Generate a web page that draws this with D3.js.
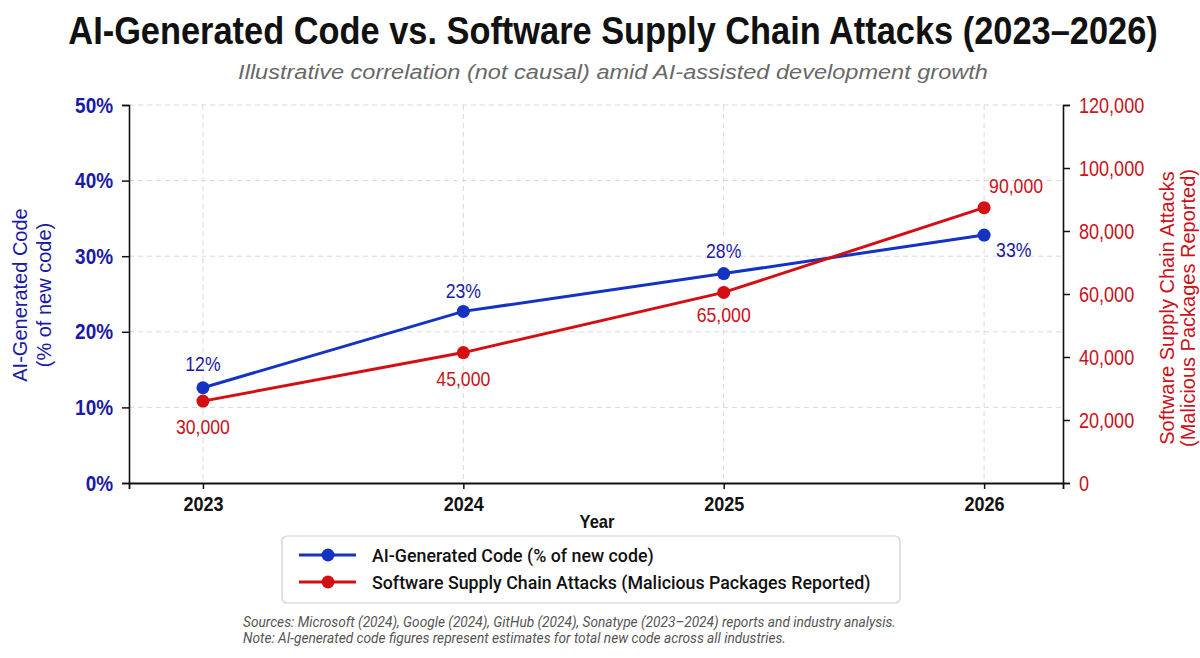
<!DOCTYPE html>
<html>
<head>
<meta charset="utf-8">
<script src="https://cdn.jsdelivr.net/npm/d3@7"></script>
<style>
  html, body { margin: 0; padding: 0; background: #ffffff; }
  svg { display: block; }
</style>
</head>
<body>
<svg id="chart" width="1200" height="658"></svg>
<script>
// ---------------- DATA ----------------
const years = [2023, 2024, 2025, 2026];
const aiCodeValues = [12.6, 22.7, 27.7, 32.8];          // % of new code (plotted)
const aiCodeLabels = ["12%", "23%", "28%", "33%"];
const attackValues = [26000, 41400, 60500, 87400];      // malicious packages (plotted)
const attackLabels = ["30,000", "45,000", "65,000", "90,000"];
const leftTicks = [0, 10, 20, 30, 40, 50];
const rightTicks = [0, 20000, 40000, 60000, 80000, 100000, 120000];
const seriesNames = ["AI-Generated Code (% of new code)", "Software Supply Chain Attacks (Malicious Packages Reported)"];
const titleText = "AI-Generated Code vs. Software Supply Chain Attacks (2023–2026)";
const subtitleText = "Illustrative correlation (not causal) amid AI-assisted development growth";
const notes = [
  "Sources: Microsoft (2024), Google (2024), GitHub (2024), Sonatype (2023–2024) reports and industry analysis.",
  "Note: AI-generated code figures represent estimates for total new code across all industries."
];

// ---------------- STYLE ----------------
const BLUE_TXT = "#1a1aa3", BLUE_LINE = "#1433c2";
const RED_TXT = "#c9121b", RED_LINE = "#d40f12";
const SANS = "'Liberation Sans',Arial,Helvetica,sans-serif";
const UI = "Roboto,'Noto Sans',sans-serif";

const svg = d3.select("#chart");
const W = 1200, H = 658;
const m = { left: 129, right: 1063, top: 105, bottom: 483 };

const x = d3.scaleLinear().domain([2022.716, 2026.303]).range([m.left, m.right]);
const yL = d3.scaleLinear().domain([0, 50]).range([m.bottom, m.top]);
const yR = d3.scaleLinear().domain([0, 120000]).range([m.bottom, m.top]);

svg.append("rect").attr("width", W).attr("height", H).attr("fill", "#ffffff");

// compress glyphs horizontally to imitate a condensed face
function narrow(sel, factor) {
  sel.each(function () {
    const len = this.getComputedTextLength();
    d3.select(this).attr("textLength", len * factor).attr("lengthAdjust", "spacingAndGlyphs");
  });
}
// horizontally scaled centred text of a given width
function scaledText(cx, cy, target, str, attrs) {
  const g = svg.append("g");
  const t = g.append("text").attr("x", 0).attr("y", 0).attr("text-anchor", "middle").text(str);
  Object.entries(attrs).forEach(([k, v]) => t.attr(k, v));
  const len = t.node().getComputedTextLength();
  g.attr("transform", `translate(${cx},${cy}) scale(${target / len},1)`);
  return t;
}

// Title & subtitle
scaledText(613, 44, 1090, titleText,
  { "font-family": SANS, "font-weight": 700, "font-size": 38, "fill": "#111" });
scaledText(613, 79, 750, subtitleText,
  { "font-family": SANS, "font-style": "italic", "font-size": 21, "fill": "#686868" });

// Grid
const grid = svg.append("g");
grid.selectAll("line.h").data(leftTicks.filter(d => d > 0)).join("line")
  .attr("x1", m.left).attr("x2", m.right)
  .attr("y1", d => yL(d)).attr("y2", d => yL(d))
  .attr("stroke", "#d9d9d9").attr("stroke-width", 1).attr("stroke-dasharray", "5,4");
grid.selectAll("line.v").data(years).join("line")
  .attr("x1", d => x(d)).attr("x2", d => x(d))
  .attr("y1", m.top).attr("y2", m.bottom)
  .attr("stroke", "#d9d9d9").attr("stroke-width", 1).attr("stroke-dasharray", "5,4");

// Axes
const axL = svg.append("g").attr("transform", `translate(${m.left},0)`)
  .call(d3.axisLeft(yL).tickValues(leftTicks).tickFormat(d => d + "%").tickSize(7).tickPadding(9));
axL.select(".domain").attr("stroke", "#111").attr("stroke-width", 1.6);
axL.selectAll(".tick line").attr("stroke", "#111").attr("stroke-width", 1.5);
axL.selectAll(".tick text").attr("font-family", SANS).attr("font-weight", 700)
  .attr("font-size", 22).attr("fill", BLUE_TXT).call(narrow, 0.86);

const axR = svg.append("g").attr("transform", `translate(${m.right},0)`)
  .call(d3.axisRight(yR).tickValues(rightTicks).tickFormat(d3.format(",")).tickSize(7).tickPadding(9));
axR.select(".domain").attr("stroke", "#111").attr("stroke-width", 1.6);
axR.selectAll(".tick line").attr("stroke", "#111").attr("stroke-width", 1.5);
axR.selectAll(".tick text").attr("font-family", SANS).attr("font-weight", 400)
  .attr("font-size", 22).attr("fill", RED_TXT).call(narrow, 0.82);

const axB = svg.append("g").attr("transform", `translate(0,${m.bottom})`)
  .call(d3.axisBottom(x).tickValues(years).tickFormat(d3.format("d")).tickSize(6).tickPadding(8));
axB.select(".domain").attr("stroke", "#111").attr("stroke-width", 1.8);
axB.selectAll(".tick line").attr("stroke", "#111").attr("stroke-width", 1.5);
axB.selectAll(".tick text").attr("font-family", SANS).attr("font-weight", 700)
  .attr("font-size", 20).attr("fill", "#111").call(narrow, 0.9);

// Axis titles
svg.append("text").attr("x", 597).attr("y", 528).attr("text-anchor", "middle")
  .attr("font-family", SANS).attr("font-weight", 700).attr("font-size", 19).attr("fill", "#111")
  .text("Year").call(narrow, 0.87);

const lt = svg.append("text").attr("transform", "translate(27,295) rotate(-90)")
  .attr("text-anchor", "middle").attr("font-family", SANS).attr("font-size", 20).attr("fill", BLUE_TXT);
lt.append("tspan").attr("x", 0).attr("y", 0).text("AI-Generated Code");
lt.append("tspan").attr("x", 0).attr("y", 24).text("(% of new code)");

const rt = svg.append("text").attr("transform", "translate(1174,308) rotate(-90)")
  .attr("text-anchor", "middle").attr("font-family", SANS).attr("font-size", 20).attr("fill", RED_TXT);
rt.append("tspan").attr("x", 0).attr("y", 0).text("Software Supply Chain Attacks");
rt.append("tspan").attr("x", 0).attr("y", 21).text("(Malicious Packages Reported)");

// Lines
const lineL = d3.line().x((d, i) => x(years[i])).y(d => yL(d));
const lineR = d3.line().x((d, i) => x(years[i])).y(d => yR(d));

svg.append("path").datum(aiCodeValues).attr("d", lineL)
  .attr("fill", "none").attr("stroke", BLUE_LINE).attr("stroke-width", 3);
svg.append("path").datum(attackValues).attr("d", lineR)
  .attr("fill", "none").attr("stroke", RED_LINE).attr("stroke-width", 3);

svg.selectAll("circle.ai").data(aiCodeValues).join("circle")
  .attr("cx", (d, i) => x(years[i])).attr("cy", d => yL(d)).attr("r", 6.5).attr("fill", BLUE_LINE);
svg.selectAll("circle.at").data(attackValues).join("circle")
  .attr("cx", (d, i) => x(years[i])).attr("cy", d => yR(d)).attr("r", 6.5).attr("fill", RED_LINE);

// Data labels (placement offsets are style)
const aiOff = [[0, -17, "middle"], [0, -13, "middle"], [0, -16, "middle"], [12, 22, "start"]];
const atOff = [[0, 33, "middle"], [0, 33, "middle"], [0, 30, "middle"], [5, -15, "start"]];

svg.selectAll("text.ai").data(aiCodeValues).join("text")
  .attr("x", (d, i) => x(years[i]) + aiOff[i][0]).attr("y", (d, i) => yL(d) + aiOff[i][1])
  .attr("text-anchor", (d, i) => aiOff[i][2])
  .attr("font-family", SANS).attr("font-size", 21).attr("fill", BLUE_TXT)
  .text((d, i) => aiCodeLabels[i]).call(narrow, 0.84);
svg.selectAll("text.at").data(attackValues).join("text")
  .attr("x", (d, i) => x(years[i]) + atOff[i][0]).attr("y", (d, i) => yR(d) + atOff[i][1])
  .attr("text-anchor", (d, i) => atOff[i][2])
  .attr("font-family", SANS).attr("font-size", 21).attr("fill", RED_TXT)
  .text((d, i) => attackLabels[i]).call(narrow, 0.84);

// Legend
const lg = svg.append("g");
lg.append("rect").attr("x", 282).attr("y", 536).attr("width", 618).attr("height", 67).attr("rx", 5)
  .attr("fill", "#fff").attr("stroke", "#cfcfcf").attr("stroke-width", 1.2);
const legColors = [BLUE_LINE, RED_LINE];
seriesNames.forEach((name, i) => {
  const yy = 555 + i * 27;
  lg.append("line").attr("x1", 299).attr("x2", 356).attr("y1", yy).attr("y2", yy)
    .attr("stroke", legColors[i]).attr("stroke-width", 3);
  lg.append("circle").attr("cx", 328).attr("cy", yy).attr("r", 6.5).attr("fill", legColors[i]);
  lg.append("text").attr("x", 372).attr("y", yy + 6.5).attr("font-family", UI).attr("font-weight", 500)
    .attr("font-size", 17.8).attr("fill", "#111").text(name);
});

// Footnotes
notes.forEach((t, i) => {
  svg.append("text").attr("x", 243).attr("y", 627 + i * 16).attr("font-family", UI)
    .attr("font-style", "italic").attr("font-size", 13.7).attr("fill", "#555").text(t);
});
</script>
</body>
</html>
